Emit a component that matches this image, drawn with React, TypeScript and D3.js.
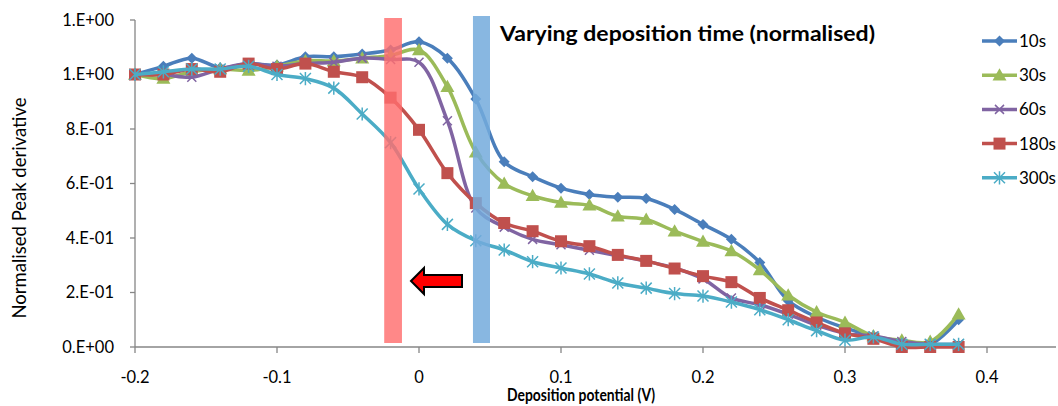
import React from "react";
import * as d3 from "d3";

const W = 1058, H = 406;

const potentials = [-0.2,-0.18,-0.16,-0.14,-0.12,-0.1,-0.08,-0.06,-0.04,-0.02,0,0.02,0.04,0.06,0.08,0.1,0.12,0.14,0.16,0.18,0.2,0.22,0.24,0.26,0.28,0.3,0.32,0.34,0.36,0.38];

const s10 = [1.0,1.03,1.06,1.025,1.04,1.035,1.065,1.065,1.075,1.09,1.12,1.06,0.91,0.68,0.625,0.583,0.56,0.55,0.545,0.505,0.45,0.395,0.31,0.17,0.11,0.07,0.04,0.02,0.01,0.10];
const s30 = [1.0,0.985,1.01,1.02,1.015,1.03,1.05,1.05,1.06,1.07,1.09,0.955,0.715,0.60,0.555,0.53,0.52,0.48,0.468,0.425,0.387,0.352,0.283,0.19,0.128,0.09,0.04,0.025,0.02,0.12];
const s60 = [1.0,1.0,0.99,1.02,1.04,1.03,1.04,1.045,1.06,1.055,1.045,0.83,0.51,0.44,0.395,0.375,0.355,0.335,0.315,0.29,0.25,0.18,0.155,0.12,0.08,0.05,0.04,0.02,0.01,0.01];
const s180 = [1.0,1.0,1.02,1.01,1.04,1.02,1.04,1.01,0.99,0.915,0.797,0.638,0.528,0.455,0.425,0.388,0.37,0.338,0.316,0.288,0.26,0.238,0.18,0.135,0.09,0.05,0.03,0.0,0.0,0.0];
const s300 = [1.0,1.01,1.02,1.02,1.03,1.0,0.985,0.95,0.855,0.75,0.58,0.45,0.39,0.356,0.313,0.29,0.268,0.235,0.216,0.196,0.187,0.165,0.137,0.10,0.06,0.025,0.037,0.01,0.01,0.01];

const seriesNames = ["10s","30s","60s","180s","300s"];
const seriesValues = [s10, s30, s60, s180, s300];
const seriesColors = ["#4A7EBB","#9BBB59","#8064A2","#C0504D","#4BACC6"];
const markerKinds = ["diamond","triangle","x","square","star"];

const xTicks = [-0.2,-0.1,0,0.1,0.2,0.3,0.4];
const xTickLabels = ["-0.2","-0.1","0","0.1","0.2","0.3","0.4"];
const yTicks = [0,0.2,0.4,0.6,0.8,1.0,1.2];
const yTickLabels = ["0.E+00","2.E-01","4.E-01","6.E-01","8.E-01","1.E+00","1.E+00"];

const bands = [
  { from: -0.0245, to: -0.012, color: "rgba(255,110,110,0.82)" },
  { from: 0.038, to: 0.05, color: "rgba(115,170,220,0.85)" },
];

const title = "Varying deposition time (normalised)";
const xTitle = "Deposition potential (V)";
const yTitle = "Normalised Peak derivative";

function Marker({ kind, x, y, color }: { kind: string; x: number; y: number; color: string }) {
  if (kind === "diamond") {
    const r = 5.5;
    return <path d={`M${x},${y - r}L${x + r},${y}L${x},${y + r}L${x - r},${y}Z`} fill={color} />;
  }
  if (kind === "triangle") {
    const r = 7;
    return <path d={`M${x},${y - r}L${x + r},${y + r * 0.75}L${x - r},${y + r * 0.75}Z`} fill={color} />;
  }
  if (kind === "x") {
    const r = 4.5;
    return <path d={`M${x - r},${y - r}L${x + r},${y + r}M${x - r},${y + r}L${x + r},${y - r}`} stroke={color} strokeWidth={1.5} />;
  }
  if (kind === "square") {
    const r = 6;
    return <rect x={x - r} y={y - r} width={2 * r} height={2 * r} fill={color} />;
  }
  const r = 5.5;
  return (
    <path
      d={`M${x - r},${y - r}L${x + r},${y + r}M${x - r},${y + r}L${x + r},${y - r}M${x},${y - r * 1.2}L${x},${y + r * 1.2}`}
      stroke={color}
      strokeWidth={1.5}
    />
  );
}

export default function App() {
  const x = d3.scaleLinear().domain([-0.2, 0.4]).range([135, 987]);
  const y = d3.scaleLinear().domain([0, 1.2]).range([347, 20]);
  const line = d3
    .line<number>()
    .x((_, i) => x(potentials[i]))
    .y((v) => y(v))
    .curve(d3.curveCatmullRom.alpha(0.5));

  const axisColor = "#868686";
  const font = "Lato, 'Open Sans', sans-serif";

  return (
    <svg
      width={W}
      height={H}
      style={{ position: "fixed", left: 0, top: 0, background: "#fff" }}
      fontFamily={font}
    >
      <rect width={W} height={H} fill="#fff" />
      {/* axes */}
      <line x1={x(-0.2)} x2={x(-0.2)} y1={y(1.2)} y2={y(0)} stroke={axisColor} strokeWidth={1.3} />
      <line x1={x(-0.2)} x2={1056} y1={y(0)} y2={y(0)} stroke={axisColor} strokeWidth={1.3} />
      {yTicks.map((t, i) => (
        <g key={"y" + i}>
          <line x1={x(-0.2) - 5} x2={x(-0.2)} y1={y(t)} y2={y(t)} stroke={axisColor} strokeWidth={1.3} />
          <text x={114} y={y(t)} dy="0.35em" textAnchor="end" fontSize={16.5} fill="#000">
            {yTickLabels[i]}
          </text>
        </g>
      ))}
      {xTicks.map((t, i) => (
        <g key={"x" + i}>
          <line x1={x(t)} x2={x(t)} y1={y(0)} y2={y(0) + 6} stroke={axisColor} strokeWidth={1.3} />
          <text x={x(t)} y={377} dy="0.35em" textAnchor="middle" fontSize={16.5} fill="#000">
            {xTickLabels[i]}
          </text>
        </g>
      ))}
      <text x={581} y={401} textAnchor="middle" fontSize={16.5} fontWeight="bold" fill="#000" textLength={148} lengthAdjust="spacingAndGlyphs">
        {xTitle}
      </text>
      <text
        transform={`translate(19,208) rotate(-90)`}
        dy="0.35em"
        textAnchor="middle"
        fontSize={19.5}
        fill="#000"
        textLength={221}
        lengthAdjust="spacingAndGlyphs"
      >
        {yTitle}
      </text>

      {/* series */}
      {seriesValues.map((vals, si) => (
        <g key={"s" + si}>
          <path d={line(vals) || ""} fill="none" stroke={seriesColors[si]} strokeWidth={3.5} strokeLinejoin="round" />
          {vals.map((v, i) => (
            <Marker key={i} kind={markerKinds[si]} x={x(potentials[i])} y={y(v)} color={seriesColors[si]} />
          ))}
        </g>
      ))}

      {/* bands */}
      {bands.map((b, i) => (
        <rect key={"b" + i} x={x(b.from)} y={i === 0 ? 18 : 16} width={x(b.to) - x(b.from)} height={343 - (i === 0 ? 18 : 16)} fill={b.color} />
      ))}

      {/* arrow */}
      <path
        d="M411,281 L424,268 L424,275 L462,275 L462,287 L424,287 L424,294 Z"
        fill="#FF0000"
        stroke="#000"
        strokeWidth={2}
        strokeLinejoin="miter"
      />

      <text x={500} y={34} dy="0.35em" fontSize={21} fontWeight="bold" fill="#000" textLength={375} lengthAdjust="spacingAndGlyphs">
        {title}
      </text>

      {/* legend */}
      {seriesNames.map((n, i) => {
        const ly = 41 + i * 34.2;
        return (
          <g key={"l" + i}>
            <line x1={982} x2={1017} y1={ly} y2={ly} stroke={seriesColors[i]} strokeWidth={3.5} />
            <Marker kind={markerKinds[i]} x={999.5} y={ly} color={seriesColors[i]} />
            <text x={1019} y={ly} dy="0.35em" fontSize={17} fill="#000">
              {n}
            </text>
          </g>
        );
      })}
    </svg>
  );
}
